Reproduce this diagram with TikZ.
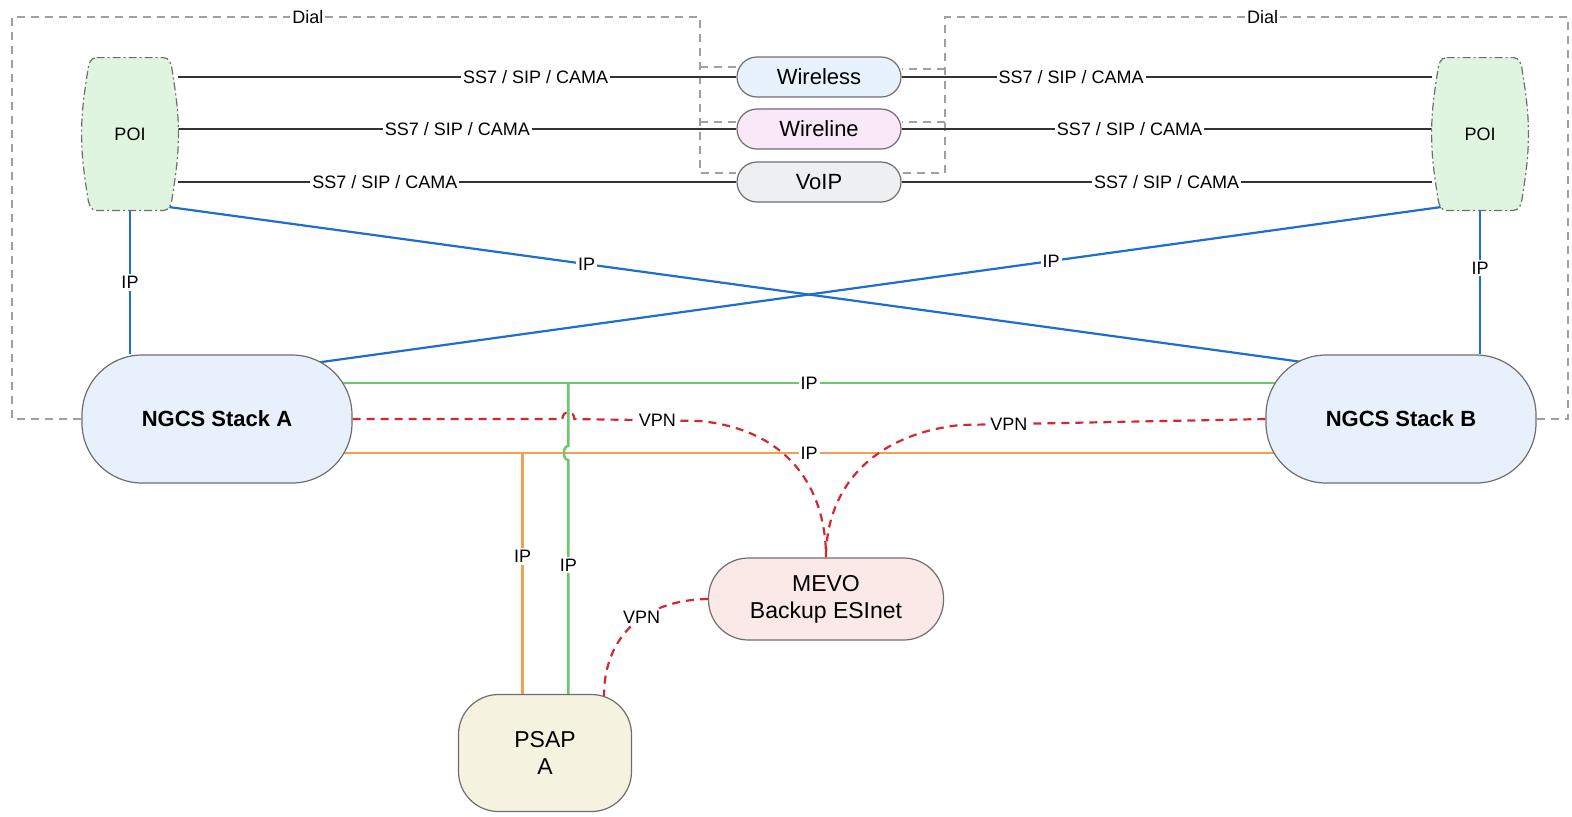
\documentclass[tikz,border=0pt]{standalone}
\usepackage{fontspec}
\setmainfont{Liberation Sans}
\usetikzlibrary{backgrounds}

\definecolor{boxline}{HTML}{6E6E6E}
\definecolor{ngfill}{HTML}{E8F0FC}
\definecolor{wlsfill}{HTML}{E8F2FD}
\definecolor{wlnfill}{HTML}{F8E8F8}
\definecolor{vofill}{HTML}{EEEFF1}
\definecolor{poifill}{HTML}{DFF5DF}
\definecolor{mevofill}{HTML}{FBE9E7}
\definecolor{psapfill}{HTML}{F5F2E0}
\definecolor{tdmline}{HTML}{333333}
\definecolor{ipblue}{HTML}{1E6ED2}
\definecolor{ipgreen}{HTML}{6CC86C}
\definecolor{iporange}{HTML}{F0A050}
\definecolor{vpnred}{HTML}{D22832}
\definecolor{dialgray}{HTML}{A0A0A0}

\tikzset{
  box/.style={draw=boxline, line width=0.6pt, align=center, inner sep=2pt},
  stack/.style={box, fill=ngfill, rounded corners=30pt, minimum width=135pt, minimum height=64pt, font=\fontsize{11}{13}\selectfont\bfseries},
  carrier/.style={box, rounded corners=10pt, minimum width=82pt, minimum height=20pt, font=\fontsize{11}{13}\selectfont},
  poi/.style={inner sep=2pt, minimum width=48pt, minimum height=76pt, font=\fontsize{9}{11}\selectfont},
  poibody/.style={draw=boxline, line width=0.6pt, fill=poifill, dash pattern=on 4pt off 1.5pt on 1pt off 1.5pt},
  site/.style={box, rounded corners=20pt, font=\fontsize{11.5}{13.5}\selectfont},
  lbl/.style={fill=white, inner sep=1pt, font=\fontsize{9}{11}\selectfont},
  tdm/.style={draw=tdmline, line width=1pt},
  ipb/.style={draw=ipblue, line width=1.1pt},
  ipg/.style={draw=ipgreen, line width=1.2pt},
  ipo/.style={draw=iporange, line width=1.2pt},
  vpn/.style={draw=vpnred, line width=1.1pt, dash pattern=on 4pt off 3pt},
  dial/.style={draw=dialgray, line width=0.8pt, dash pattern=on 4pt off 3pt}
}

% barrel outline round a POI node
\newcommand{\poibarrel}[1]{%
  \path[poibody] ([shift={(15,0)}]#1.north west) -- ([shift={(-15,0)}]#1.north east)
    .. controls ([shift={(-9,0)}]#1.north east) and ([shift={(-7,6)}]#1.north east) .. ([shift={(-6,14)}]#1.north east)
    .. controls ([shift={(-2,40)}]#1.north east) and ([shift={(0,55)}]#1.north east) .. (#1.east)
    .. controls ([shift={(0,-55)}]#1.south east) and ([shift={(-2,-40)}]#1.south east) .. ([shift={(-6,-14)}]#1.south east)
    .. controls ([shift={(-7,-6)}]#1.south east) and ([shift={(-9,0)}]#1.south east) .. ([shift={(-15,0)}]#1.south east)
    -- ([shift={(15,0)}]#1.south west)
    .. controls ([shift={(9,0)}]#1.south west) and ([shift={(7,-6)}]#1.south west) .. ([shift={(6,-14)}]#1.south west)
    .. controls ([shift={(2,-40)}]#1.south west) and ([shift={(0,-55)}]#1.south west) .. (#1.west)
    .. controls ([shift={(0,55)}]#1.north west) and ([shift={(2,40)}]#1.north west) .. ([shift={(6,14)}]#1.north west)
    .. controls ([shift={(7,6)}]#1.north west) and ([shift={(9,0)}]#1.north west) .. cycle;}

\begin{document}
\begin{tikzpicture}[x=0.5pt, y=-0.5pt]
  \useasboundingbox (0,0) rectangle (1572,816);

  % nodes
  \node[poi] (poiL) at (130,134) {POI};
  \node[poi] (poiR) at (1480,134) {POI};
  \node[carrier, fill=wlsfill] (wls) at (819,77) {Wireless};
  \node[carrier, fill=wlnfill] (wln) at (819,129) {Wireline};
  \node[carrier, fill=vofill] (vo) at (819,182) {VoIP};
  \node[stack] (ngA) at (217,419) {NGCS Stack A};
  \node[stack] (ngB) at (1401,419) {NGCS Stack B};
  \node[site, fill=mevofill, minimum width=117.5pt, minimum height=41pt] (mevo) at (826,599) {MEVO\\Backup ESInet};
  \node[site, fill=psapfill, minimum width=86.5pt, minimum height=58.5pt] (psap) at (545,753) {PSAP\\A};

  \begin{pgfonlayer}{background}
    % dial paths
    \coordinate (dl) at (700,17);
    \coordinate (dr) at (945,17);
    \draw[dial] (ngA.west) -| (12,17) -- node[lbl, pos=0.43] {Dial} (dl) -- (dl |- 0,173) -- (vo.west |- 0,173);
    \draw[dial] (dl |- 0,67) -- (wls.west |- 0,67);
    \draw[dial] (dl |- 0,122) -- (wln.west |- 0,122);
    \draw[dial] (ngB.east) -| (1568,17) -- node[lbl, pos=0.49] {Dial} (dr) -- (dr |- 0,173) -- (vo.east |- 0,173);
    \draw[dial] (dr |- 0,69) -- (wls.east |- 0,69);
    \draw[dial] (dr |- 0,122) -- (wln.east |- 0,122);

    % SS7 / SIP / CAMA trunks
    \draw[tdm] (poiL.east |- wls.west) -- node[lbl, pos=0.64] {SS7 / SIP / CAMA} (wls.west);
    \draw[tdm] (poiL.east |- wln.west) -- node[lbl, pos=0.50] {SS7 / SIP / CAMA} (wln.west);
    \draw[tdm] (poiL.east |- vo.west) -- node[lbl, pos=0.37] {SS7 / SIP / CAMA} (vo.west);
    \draw[tdm] (wls.east) -- node[lbl, pos=0.32] {SS7 / SIP / CAMA} (poiR.west |- wls.east);
    \draw[tdm] (wln.east) -- node[lbl, pos=0.43] {SS7 / SIP / CAMA} (poiR.west |- wln.east);
    \draw[tdm] (vo.east) -- node[lbl, pos=0.50] {SS7 / SIP / CAMA} (poiR.west |- vo.east);

    % POI to stacks
    \draw[ipb] (poiL.south) -- node[lbl] {IP} (ngA.north -| poiL.south);
    \draw[ipb] (poiR.south) -- node[lbl, pos=0.4] {IP} (ngB.north -| poiR.south);
    \draw[ipb] ([shift={(-14,-4)}]poiL.south east) -- node[lbl, pos=0.37] {IP} ([shift={(40,8)}]ngB.north west);
    \draw[ipb] ([shift={(14,-4)}]poiR.south west) -- node[lbl, pos=0.35] {IP} ([shift={(-34,8)}]ngA.north east);

    % stack to stack, stack to PSAP
    \draw[ipg] ([xshift=-5pt]ngA.east |- 0,383) -- coordinate[pos=0.242] (gj) node[lbl, pos=0.5] {IP} ([xshift=5pt]ngB.west |- 0,383);
    \draw[ipo] ([xshift=-5pt]ngA.east |- 0,453) -- coordinate[pos=0.193] (oj) node[lbl, pos=0.5] {IP} ([xshift=5pt]ngB.west |- 0,453);
    \draw[ipo] (oj) -- node[lbl, pos=0.43] {IP} (psap.north -| oj);
    \draw[ipg] (gj) -- (gj |- 0,446) .. controls ([xshift=-3pt]gj |- 0,446) and ([xshift=-3pt]gj |- 0,460) .. (gj |- 0,460) -- node[lbl, pos=0.45] {IP} (psap.north -| gj);

    % VPN
    \draw[vpn] (ngA.east) -- ([xshift=-3pt]gj |- ngA.east) .. controls ([shift={(-6,-9)}]gj |- ngA.east) and ([shift={(6,-9)}]gj |- ngA.east) .. ([xshift=3pt]gj |- ngA.east) -- node[lbl, pos=0.66] {VPN} (700,421) .. controls (790,430) and (826,490) .. (mevo.north);
    \draw[vpn] (ngB.west) -- node[lbl, pos=0.84] {VPN} (960,425) .. controls (870,435) and (826,490) .. (mevo.north);
    \draw[vpn] (mevo.west) .. controls (640,600) and (603,640) .. node[lbl, pos=0.4] {VPN} ([shift={(-28,4)}]psap.north east);

    % POI outlines
    \poibarrel{poiL}
    \poibarrel{poiR}
  \end{pgfonlayer}
\end{tikzpicture}
\end{document}
